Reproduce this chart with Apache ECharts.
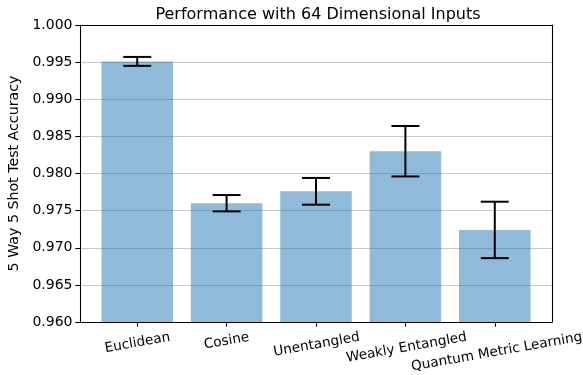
<!DOCTYPE html>
<html>
<head>
<meta charset="utf-8">
<script src="https://cdn.jsdelivr.net/npm/echarts@6/dist/echarts.min.js"></script>
<style>
  html, body { margin: 0; padding: 0; background: #fff; }
  #chart { width: 583px; height: 375px; }
</style>
</head>
<body>
<div id="chart"></div>
<script>
// Mean accuracy and error half-widths for each distance metric
const categories = ['Euclidean', 'Cosine', 'Unentangled', 'Weakly Entangled', 'Quantum Metric Learning'];
const accuracy = [0.9951, 0.9760, 0.9776, 0.9830, 0.9724];
const errors = [0.0006, 0.0011, 0.0018, 0.0034, 0.0038];
const yTicks = [0.960, 0.965, 0.970, 0.975, 0.980, 0.985, 0.990, 0.995, 1.000];

const FONT = 'DejaVu Sans';
const X_FONT = 13.6;
const Y_FONT = 14;
const NAME_FONT = 14.2;
const BAR_WIDTH = 0.8;   // in category units
const CAP_HALF = 14;     // px
const ROT = 10;          // label rotation, degrees

const positions = categories.map((_, i) => i);
const barData = accuracy.map((v, i) => [i, v]);
const errData = accuracy.map((v, i) => [i, v - errors[i], v + errors[i]]);

// Rotated tick labels hang below the axis by their rotated bounding box,
// so longer labels sit lower: work out each label's centre offset.
const ctx = document.createElement('canvas').getContext('2d');
ctx.font = X_FONT + 'px "' + FONT + '"';
const rad = ROT * Math.PI / 180;
const centreOffsets = categories.map((c) => {
  const w = ctx.measureText(c).width;
  return 8.5 + (w * Math.sin(rad) + X_FONT * Math.cos(rad)) / 2;
});
const minOffset = Math.min(...centreOffsets);
const rich = {};
categories.forEach((c, i) => {
  rich['l' + i] = {
    fontFamily: FONT, fontSize: X_FONT, color: '#000',
    padding: [2 * (centreOffsets[i] - minOffset), 0, 0, 0]
  };
});

const chart = echarts.init(document.getElementById('chart'), null, { renderer: 'canvas' });

chart.setOption({
  animation: false,
  backgroundColor: '#ffffff',
  title: {
    text: 'Performance with 64 Dimensional Inputs',
    left: 313, top: 2, textAlign: 'center',
    textStyle: { fontFamily: FONT, fontSize: 16, fontWeight: 'normal', color: '#000' }
  },
  grid: { left: 80, right: 31, top: 25, bottom: 53, containLabel: false, outerBoundsMode: 'none' },
  xAxis: [{
    type: 'value', min: -0.64, max: 4.64,
    axisLine: { show: true, onZero: false, lineStyle: { color: '#000', width: 1.07 } },
    axisTick: { show: true, customValues: positions, length: 4.67, lineStyle: { color: '#000', width: 1.07 } },
    axisLabel: {
      customValues: positions,
      formatter: (v) => {
        const i = Math.round(v);
        return '{l' + i + '|' + categories[i] + '}';
      },
      rich: rich,
      rotate: ROT, align: 'center', verticalAlign: 'middle', margin: minOffset,
      fontFamily: FONT, fontSize: X_FONT, color: '#000'
    },
    splitLine: { show: false }
  }, {
    type: 'value', min: -0.64, max: 4.64, position: 'top',
    axisLine: { show: true, onZero: false, lineStyle: { color: '#000', width: 1.07 } },
    axisTick: { show: false }, axisLabel: { show: false }, splitLine: { show: false }
  }],
  yAxis: [{
    type: 'value', min: yTicks[0], max: yTicks[yTicks.length - 1], interval: 0.005,
    name: '5 Way 5 Shot Test Accuracy',
    nameLocation: 'middle', nameGap: 52, nameRotate: 90,
    nameTextStyle: { fontFamily: FONT, fontSize: NAME_FONT, color: '#000' },
    axisLine: { show: true, onZero: false, lineStyle: { color: '#000', width: 1.07 } },
    axisTick: { show: true, length: 4.67, lineStyle: { color: '#000', width: 1.07 } },
    axisLabel: {
      formatter: (v) => v.toFixed(3), margin: 7.5,
      fontFamily: FONT, fontSize: Y_FONT, color: '#000'
    },
    splitLine: { show: true, lineStyle: { color: '#c8c8c8', width: 1.1 } }
  }, {
    type: 'value', min: yTicks[0], max: yTicks[yTicks.length - 1], interval: 0.005, position: 'right',
    axisLine: { show: true, onZero: false, lineStyle: { color: '#000', width: 1.07 } },
    axisTick: { show: false }, axisLabel: { show: false }, splitLine: { show: false }
  }],
  series: [{
    type: 'custom',
    name: 'accuracy',
    xAxisIndex: 0, yAxisIndex: 0,
    data: barData,
    z: 3,
    renderItem: (params, api) => {
      const x = api.value(0), y = api.value(1);
      const tl = api.coord([x - BAR_WIDTH / 2, y]);
      const br = api.coord([x + BAR_WIDTH / 2, yTicks[0]]);
      return {
        type: 'rect',
        shape: { x: tl[0], y: tl[1], width: br[0] - tl[0], height: br[1] - tl[1] },
        style: { fill: 'rgba(31,119,180,0.5)' }
      };
    }
  }, {
    type: 'custom',
    name: 'error',
    xAxisIndex: 0, yAxisIndex: 0,
    data: errData,
    z: 4,
    renderItem: (params, api) => {
      const x = api.value(0);
      const lo = api.coord([x, api.value(1)]);
      const hi = api.coord([x, api.value(2)]);
      const st = { stroke: '#000', lineWidth: 2 };
      return {
        type: 'group',
        children: [
          { type: 'line', shape: { x1: lo[0], y1: lo[1], x2: hi[0], y2: hi[1] }, style: st },
          { type: 'line', shape: { x1: lo[0] - CAP_HALF, y1: lo[1], x2: lo[0] + CAP_HALF, y2: lo[1] }, style: st },
          { type: 'line', shape: { x1: hi[0] - CAP_HALF, y1: hi[1], x2: hi[0] + CAP_HALF, y2: hi[1] }, style: st }
        ]
      };
    }
  }]
});
</script>
</body>
</html>
